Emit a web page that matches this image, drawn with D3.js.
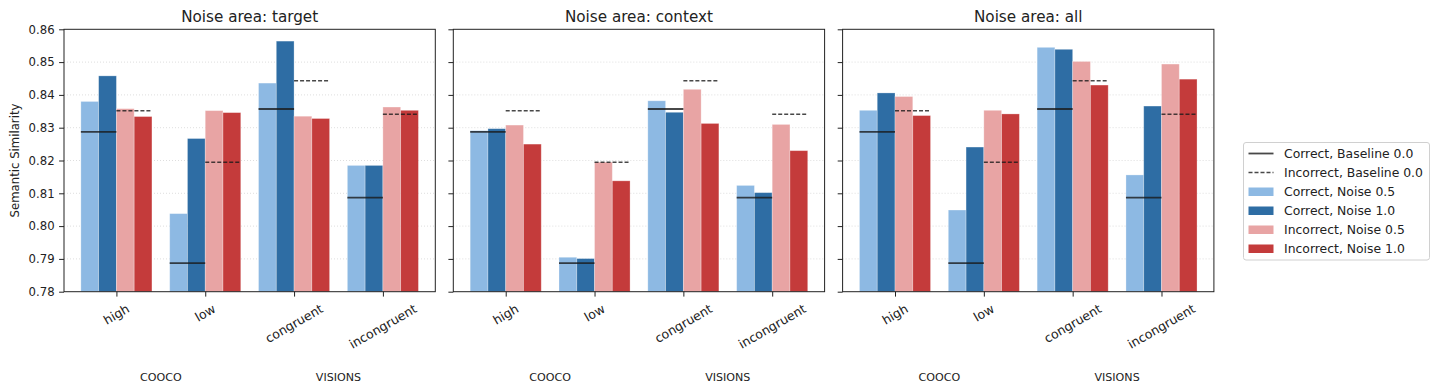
<!DOCTYPE html>
<html>
<head>
<meta charset="utf-8">
<script src="https://cdn.jsdelivr.net/npm/d3@7"></script>
<style>
  body { margin: 0; background: #fff; }
  svg text { font-family: "DejaVu Sans", sans-serif; fill: #222; }
</style>
</head>
<body>
<svg id="chart" width="1435" height="391"></svg>
<script>
// categories and groups
var categories = ['high', 'low', 'congruent', 'incongruent'];
var datasets = [{name: 'COOCO', cats: [0, 1]}, {name: 'VISIONS', cats: [2, 3]}];
var panelTitles = ['Noise area: target', 'Noise area: context', 'Noise area: all'];
var yTicks = [0.78, 0.79, 0.80, 0.81, 0.82, 0.83, 0.84, 0.85, 0.86];

// baseline (noise 0.0), same for every panel
var baselineCorrect = [0.8287, 0.7887, 0.8357, 0.8087];
var baselineIncorrect = [0.8352, 0.8195, 0.8443, 0.8341];

// per panel: target, context, all
var correct05 = [
  [0.8380, 0.8038, 0.8436, 0.8185],
  [0.8291, 0.7905, 0.8382, 0.8124],
  [0.8353, 0.8049, 0.8545, 0.8156]
];
var correct10 = [
  [0.8458, 0.8267, 0.8564, 0.8185],
  [0.8297, 0.7901, 0.8347, 0.8102],
  [0.8406, 0.8241, 0.8539, 0.8366]
];
var incorrect05 = [
  [0.8358, 0.8352, 0.8335, 0.8363],
  [0.8308, 0.8195, 0.8417, 0.8310],
  [0.8395, 0.8353, 0.8502, 0.8494]
];
var incorrect10 = [
  [0.8334, 0.8346, 0.8328, 0.8353],
  [0.8250, 0.8138, 0.8313, 0.8230],
  [0.8337, 0.8342, 0.8430, 0.8448]
];

var series = [
  {label: 'Correct, Noise 0.5', values: correct05, color: '#8db9e3', offset: -0.3},
  {label: 'Correct, Noise 1.0', values: correct10, color: '#2e6da4', offset: -0.1},
  {label: 'Incorrect, Noise 0.5', values: incorrect05, color: '#e8a4a4', offset: 0.1},
  {label: 'Incorrect, Noise 1.0', values: incorrect10, color: '#c43b3b', offset: 0.3}
];
var barWidth = 0.2;

var svg = d3.select('#chart');
var plotTop = 29.3, plotBottom = 291.7;
var panelLefts = [64, 453.3, 842.6], panelWidth = 371.3;

var y = d3.scaleLinear().domain([0.78, 0.86]).range([plotBottom, plotTop]);

panelTitles.forEach(function (title, p) {
    var left = panelLefts[p];
    var x = d3.scaleLinear().domain([-0.59, 3.59]).range([left, left + panelWidth]);
    var g = svg.append('g');

    //网格
    g.selectAll('line.grid').data(yTicks.slice(1, -1)).enter().append('line')
        .attr('x1', left).attr('x2', left + panelWidth)
        .attr('y1', function (d) { return y(d); }).attr('y2', function (d) { return y(d); })
        .attr('stroke', '#d6d6d6').attr('stroke-width', 0.8).attr('stroke-dasharray', '1,2');

    // bars
    series.forEach(function (s) {
        g.selectAll(null).data(s.values[p]).enter().append('rect')
            .attr('x', function (d, i) { return x(i + s.offset - barWidth / 2); })
            .attr('width', x(barWidth) - x(0))
            .attr('y', function (d) { return y(d); })
            .attr('height', function (d) { return y(0.78) - y(d); })
            .attr('fill', s.color)
            .attr('stroke', '#ffffff').attr('stroke-opacity', 0.35).attr('stroke-width', 0.8);
    });

    // baselines
    g.selectAll(null).data(baselineCorrect).enter().append('line')
        .attr('x1', function (d, i) { return x(i - 0.4); })
        .attr('x2', function (d, i) { return x(i); })
        .attr('y1', function (d) { return y(d); }).attr('y2', function (d) { return y(d); })
        .attr('stroke', '#1a1a1a').attr('stroke-opacity', 0.8).attr('stroke-width', 1.8);
    g.selectAll(null).data(baselineIncorrect).enter().append('line')
        .attr('x1', function (d, i) { return x(i); })
        .attr('x2', function (d, i) { return x(i + 0.4); })
        .attr('y1', function (d) { return y(d); }).attr('y2', function (d) { return y(d); })
        .attr('stroke', '#1a1a1a').attr('stroke-opacity', 0.8).attr('stroke-width', 1.5)
        .attr('stroke-dasharray', '4,2');

    // frame
    g.append('rect').attr('x', left).attr('y', plotTop)
        .attr('width', panelWidth).attr('height', plotBottom - plotTop)
        .attr('fill', 'none').attr('stroke', '#222').attr('stroke-width', 1);

    // y axis
    var yAxis = d3.axisLeft(y).tickValues(yTicks).tickSize(4.9).tickPadding(4.5)
        .tickFormat(p === 0 ? d3.format('.2f') : function () { return ''; });
    var ya = g.append('g').attr('transform', 'translate(' + left + ',0)').call(yAxis);
    ya.select('.domain').remove();
    ya.selectAll('.tick line').attr('stroke', '#222');
    ya.selectAll('.tick text').attr('font-size', '11.7px').attr('fill', '#222')
        .style('font-family', '"DejaVu Sans", sans-serif');

    // x axis ticks
    var xa = g.append('g').attr('transform', 'translate(0,' + plotBottom + ')')
        .call(d3.axisBottom(x).tickValues(d3.range(categories.length)).tickSize(4.9).tickFormat(''));
    xa.select('.domain').remove();
    xa.selectAll('.tick line').attr('stroke', '#222');

    // rotated category labels
    categories.forEach(function (c, i) {
        var fs = 12.5;
        var t = g.append('text').text(c).attr('font-size', fs + 'px')
            .attr('text-anchor', 'middle').attr('dominant-baseline', 'central');
        var w = t.node().getComputedTextLength(), h = fs * 1.16;
        var bh = w * Math.sin(Math.PI / 6) + h * Math.cos(Math.PI / 6);
        var cx = x(i), cy = plotBottom + 9.5 + bh / 2;
        t.attr('x', cx).attr('y', cy).attr('transform', 'rotate(-30,' + cx + ',' + cy + ')');
    });

    // dataset labels
    datasets.forEach(function (ds) {
        g.append('text').text(ds.name)
            .attr('x', x(d3.mean(ds.cats))).attr('y', 380.5)
            .attr('text-anchor', 'middle').attr('font-size', '11.1px');
    });

    // title
    g.append('text').text(title)
        .attr('x', left + panelWidth / 2).attr('y', 21.5)
        .attr('text-anchor', 'middle').attr('font-size', '15.2px');
});

// y label
svg.append('text').text('Semantic Similarity')
    .attr('transform', 'translate(18.5,' + ((plotTop + plotBottom) / 2) + ') rotate(-90)')
    .attr('text-anchor', 'middle').attr('font-size', '11.7px');

// legend
var legendItems = [
    {label: 'Correct, Baseline 0.0', type: 'line'},
    {label: 'Incorrect, Baseline 0.0', type: 'dash'}
].concat(series.map(function (s) { return {label: s.label, type: 'bar', color: s.color}; }));

var lg = svg.append('g').attr('transform', 'translate(1243.5,142.5)');
lg.append('rect').attr('width', 186).attr('height', 117.5).attr('rx', 2.5)
    .attr('fill', '#fff').attr('stroke', '#d0d0d0').attr('stroke-width', 1);
legendItems.forEach(function (d, i) {
    var cy = 11 + i * 19;
    var row = lg.append('g').attr('transform', 'translate(0,' + cy + ')');
    if (d.type === 'bar') {
        row.append('rect').attr('x', 5).attr('y', -4).attr('width', 25).attr('height', 8.5).attr('fill', d.color);
    } else {
        row.append('line').attr('x1', 5).attr('x2', 30).attr('y1', 0).attr('y2', 0)
            .attr('stroke', '#1a1a1a').attr('stroke-opacity', 0.8)
            .attr('stroke-width', d.type === 'line' ? 1.8 : 1.3)
            .attr('stroke-dasharray', d.type === 'dash' ? '4,2' : null);
    }
    row.append('text').text(d.label).attr('x', 40.5).attr('y', 0)
        .attr('dominant-baseline', 'central').attr('font-size', '12.4px');
});
</script>
</body>
</html>
